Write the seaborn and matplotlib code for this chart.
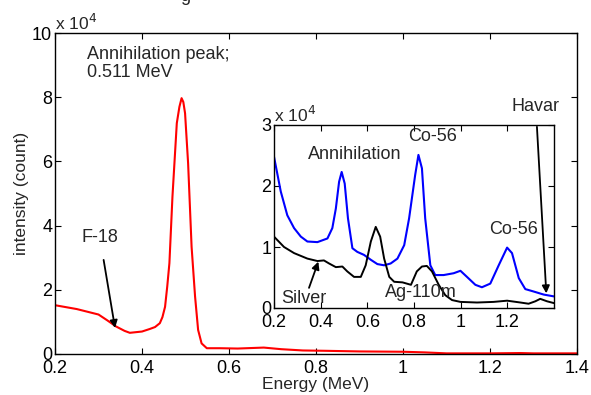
import numpy as np
import pandas as pd
import matplotlib
matplotlib.use("Agg")
import matplotlib.pyplot as plt
import seaborn as sns
from matplotlib.ticker import FuncFormatter

# main spectrum (counts in units of 1e4)
main_energy = [0.200, 0.250, 0.300, 0.320, 0.340, 0.360, 0.372, 0.400, 0.418,
               0.430, 0.441, 0.447, 0.453, 0.458, 0.463, 0.470, 0.480, 0.486,
               0.491, 0.495, 0.499, 0.506, 0.514, 0.522, 0.529, 0.537, 0.549,
               0.579, 0.620, 0.680, 0.720, 0.770, 0.820, 0.900, 1.000, 1.050,
               1.100, 1.200, 1.270, 1.300, 1.400]
main_counts = [1.52, 1.40, 1.23, 1.05, 0.86, 0.72, 0.66, 0.70, 0.78,
               0.84, 0.96, 1.15, 1.47, 2.10, 2.83, 4.90, 7.19, 7.70,
               7.97, 7.85, 7.50, 5.94, 3.34, 1.79, 0.75, 0.33, 0.18,
               0.18, 0.17, 0.20, 0.15, 0.11, 0.10, 0.08, 0.07, 0.05,
               0.02, 0.02, 0.03, 0.02, 0.02]

# inset spectra (units of 1e4)
blue_energy = [0.200, 0.229, 0.257, 0.286, 0.315, 0.343, 0.386, 0.429, 0.450,
               0.465, 0.479, 0.490, 0.503, 0.517, 0.536, 0.557, 0.586, 0.615,
               0.643, 0.672, 0.700, 0.729, 0.758, 0.779, 0.805, 0.819, 0.834,
               0.848, 0.870, 0.891, 0.927, 0.970, 0.999, 1.027, 1.063, 1.091,
               1.127, 1.163, 1.199, 1.220, 1.249, 1.277, 1.313, 1.356, 1.400]
blue_counts = [2.48, 1.91, 1.52, 1.31, 1.17, 1.09, 1.08, 1.14, 1.31,
               1.63, 2.07, 2.23, 2.04, 1.47, 0.98, 0.92, 0.87, 0.79,
               0.72, 0.70, 0.73, 0.81, 1.03, 1.47, 2.18, 2.51, 2.29,
               1.47, 0.70, 0.54, 0.54, 0.57, 0.61, 0.51, 0.38, 0.34,
               0.40, 0.70, 0.99, 0.90, 0.49, 0.31, 0.27, 0.22, 0.19]

black_energy = [0.200, 0.243, 0.286, 0.343, 0.386, 0.414, 0.436, 0.465, 0.493,
                0.514, 0.543, 0.572, 0.593, 0.615, 0.636, 0.655, 0.672, 0.694,
                0.715, 0.751, 0.787, 0.812, 0.834, 0.855, 0.877, 0.906, 0.934,
                0.963, 0.999, 1.070, 1.141, 1.199, 1.256, 1.291, 1.320, 1.341,
                1.370, 1.400]
black_counts = [1.17, 1.00, 0.90, 0.81, 0.77, 0.78, 0.73, 0.67, 0.68,
                0.60, 0.51, 0.51, 0.70, 1.09, 1.33, 1.17, 0.81, 0.51,
                0.43, 0.42, 0.38, 0.60, 0.68, 0.69, 0.60, 0.38, 0.21,
                0.13, 0.10, 0.09, 0.10, 0.12, 0.09, 0.07, 0.11, 0.15,
                0.11, 0.08]

main_xticks = [0.2, 0.4, 0.6, 0.8, 1.0, 1.2, 1.4]
main_yticks = [0, 2, 4, 6, 8, 10]
inset_xticks = [0.2, 0.4, 0.6, 0.8, 1.0, 1.2]
inset_yticks = [0, 1, 2, 3]

FS = 13

sns.set_style("ticks")
plt.rcParams['font.family'] = ['Liberation Sans', 'DejaVu Sans']
plt.rcParams['xtick.direction'] = 'in'
plt.rcParams['ytick.direction'] = 'in'

fmt = FuncFormatter(lambda v, p: f"{v:g}")


def style_axes(ax):
    ax.tick_params(axis='both', which='both', top=True, right=True,
                   length=4, width=0.8, labelsize=FS, colors='black')
    ax.tick_params(axis='x', pad=4)
    ax.tick_params(axis='y', pad=2)
    for s in ax.spines.values():
        s.set_visible(True)
        s.set_color('black')
        s.set_linewidth(1.0)
    ax.xaxis.set_major_formatter(fmt)
    ax.yaxis.set_major_formatter(fmt)


fig = plt.figure(figsize=(5.91, 3.95), dpi=100)
ax = fig.add_axes([55 / 591, 41 / 395, 522 / 591, 321 / 395])

main_df = pd.DataFrame({"energy": main_energy, "counts": main_counts})
sns.lineplot(data=main_df, x="energy", y="counts", ax=ax, color='red',
             linewidth=1.5, sort=False)
ax.set_xlim(0.2, 1.4)
ax.set_ylim(0, 10)
ax.set_xticks(main_xticks)
ax.set_yticks(main_yticks)
style_axes(ax)
ax.set_xlabel("Energy (MeV)", fontsize=FS - 0.5, labelpad=0)
ax.set_ylabel("intensity (count)", fontsize=FS - 0.5, labelpad=2)
ax.text(0.0, 1.0, r"x 10$^{4}$", transform=ax.transAxes, fontsize=FS - 0.5,
        ha='left', va='bottom')

ax.text(0.274, 9.6, "Annihilation peak;\n0.511 MeV", fontsize=FS,
        ha='left', va='top', linespacing=1.1)
ax.annotate("F-18", xy=(0.338, 0.81), xytext=(0.303, 3.64),
            fontsize=FS, ha='center', va='center',
            arrowprops=dict(arrowstyle='-|>', color='black', lw=1.3,
                            shrinkA=8, shrinkB=0, mutation_scale=11))

# inset
ins = fig.add_axes([274 / 591, 87 / 395, 280 / 591, 183 / 395])
blue_df = pd.DataFrame({"energy": blue_energy, "counts": blue_counts})
black_df = pd.DataFrame({"energy": black_energy, "counts": black_counts})
sns.lineplot(data=blue_df, x="energy", y="counts", ax=ins, color='blue',
             linewidth=1.5, sort=False)
sns.lineplot(data=black_df, x="energy", y="counts", ax=ins, color='black',
             linewidth=1.4, sort=False)
ins.set_xlim(0.2, 1.4)
ins.set_ylim(0, 3)
ins.set_xticks(inset_xticks)
ins.set_yticks(inset_yticks)
style_axes(ins)
ins.set_xlabel("")
ins.set_ylabel("")
ins.text(0.0, 1.0, r"x 10$^{4}$", transform=ins.transAxes, fontsize=FS - 0.5,
         ha='left', va='bottom')

ins.text(0.545, 2.52, "Annihilation", fontsize=FS, ha='center', va='center')
ins.text(0.88, 2.81, "Co-56", fontsize=FS, ha='center', va='center')
ins.text(1.226, 1.28, "Co-56", fontsize=FS, ha='center', va='center')
ins.text(0.329, 0.16, "Silver", fontsize=FS, ha='center', va='center')
ins.text(0.831, 0.26, "Ag-110m", fontsize=FS, ha='center', va='center')
ins.annotate("Havar", xy=(1.367, 0.24), xytext=(1.322, 3.30),
             fontsize=FS, ha='center', va='center', annotation_clip=False,
             arrowprops=dict(arrowstyle='-|>', color='black', lw=1.3,
                             shrinkA=6, shrinkB=0, mutation_scale=11))
ins.annotate("", xy=(0.39, 0.76), xytext=(0.35, 0.33),
             arrowprops=dict(arrowstyle='-|>', color='black', lw=1.3,
                             shrinkA=0, shrinkB=0, mutation_scale=11))

# cut-off caption line above the figure
fig.text(185 / 591, 1.0 - 1 / 395, "g", fontsize=FS, ha='center', va='baseline')

fig.savefig("out.png", dpi=100)
